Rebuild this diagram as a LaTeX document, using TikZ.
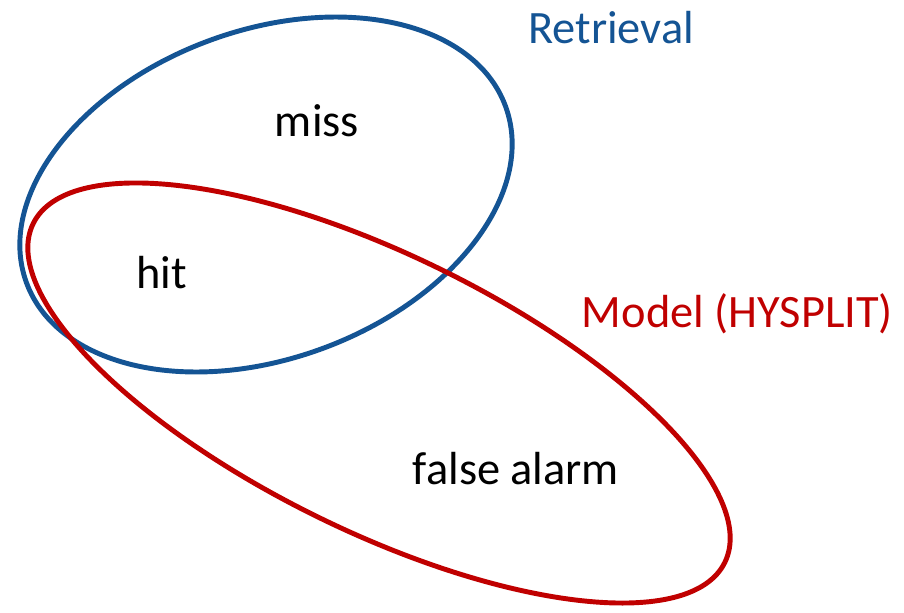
\documentclass[tikz,border=0pt]{standalone}
\usepackage{fontspec}
\setmainfont{Carlito}
\usepackage{tikz}
\usetikzlibrary{shapes.geometric}
\definecolor{retblue}{RGB}{20,84,148}
\definecolor{modred}{RGB}{192,0,0}

\begin{document}
\begin{tikzpicture}[x=0.025cm,y=-0.025cm]
        %
        % `set' is used for the two outlines.
        % `region' and `title' are used for the texts.
        \tikzstyle{set} = [draw,ellipse,line width=3.5pt,inner sep=0pt]
        \tikzstyle{region} = [anchor=base,font=\fontsize{33}{40}\selectfont]
        \tikzstyle{title} = [anchor=base,font=\fontsize{33}{40}\selectfont]
        %
        \useasboundingbox (0,0) rectangle (904,613);
        %
        % Sets
        \node[set,draw=retblue,rotate=20.25,minimum width=12.76cm,minimum height=8.2cm] (retrieval) at (266,194.5) {};
        \node[set,draw=modred,rotate=-26.1,minimum width=19.25cm,minimum height=6.91cm] (model) at (379,393) {};
        %
        % Regions
        \node[region] (miss) at (317,136) {miss};
        \node[region] (hit) at (161.5,288) {hit};
        \node[region] (falsealarm) at (516,484) {false alarm};
        %
        % Titles
        \node[title,text=retblue] (rettitle) at (611,43) {Retrieval};
        \node[title,text=modred] (modtitle) at (737.5,327) {Model (HYSPLIT)};
        %
\end{tikzpicture}
\end{document}
